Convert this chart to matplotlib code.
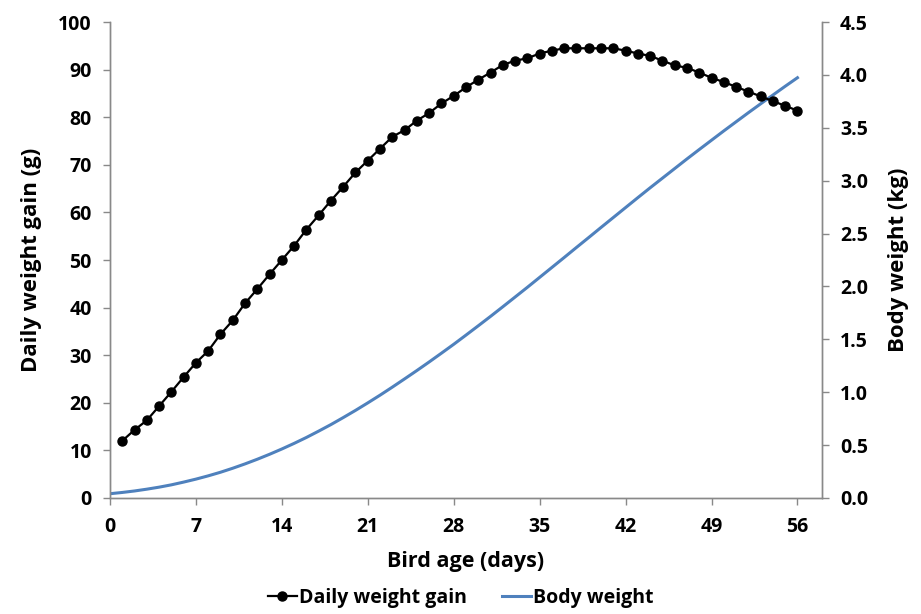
import matplotlib.pyplot as plt
import numpy as np

# daily weight gain (g), days 1..56
gain_days = list(range(1, 57))
daily_gain = [12.0, 14.3, 16.3, 19.3, 22.3, 25.4, 28.4, 30.9, 34.4, 37.3,
              40.9, 43.9, 47.0, 50.0, 53.0, 56.4, 59.4, 62.5, 65.4, 68.4,
              70.9, 73.4, 75.9, 77.3, 79.3, 80.9, 82.9, 84.5, 86.3, 87.9,
              89.4, 91.0, 91.9, 92.4, 93.4, 94.0, 94.5, 94.5, 94.5, 94.5,
              94.5, 94.0, 93.4, 92.9, 91.9, 90.9, 90.4, 89.4, 88.3, 87.4,
              86.4, 85.4, 84.4, 83.4, 82.4, 81.4]

# body weight (kg), days 0..56
bw_days = list(range(0, 57))
body_weight = [0.040, 0.052, 0.066, 0.083, 0.102, 0.124, 0.150, 0.178, 0.209, 0.243,
               0.281, 0.322, 0.366, 0.413, 0.463, 0.516, 0.572, 0.632, 0.694, 0.760,
               0.828, 0.899, 0.972, 1.048, 1.126, 1.205, 1.286, 1.369, 1.453, 1.540,
               1.628, 1.717, 1.808, 1.900, 1.992, 2.086, 2.180, 2.274, 2.369, 2.463,
               2.558, 2.652, 2.746, 2.840, 2.933, 3.024, 3.115, 3.206, 3.295, 3.383,
               3.471, 3.557, 3.643, 3.727, 3.810, 3.893, 3.974]

x_ticks = [0, 7, 14, 21, 28, 35, 42, 49, 56]

plt.rcParams['font.family'] = ['Open Sans', 'DejaVu Sans']
plt.rcParams['font.weight'] = 'bold'

axis_gray = '#898989'

fig = plt.figure(figsize=(9.21, 6.14), dpi=100)
ax = fig.add_axes([0.1194, 0.189, 0.7731, 0.775])
ax2 = ax.twinx()

l1, = ax.plot(gain_days, daily_gain, color='black', lw=1.6, marker='o',
              markersize=6.5, label='Daily weight gain', zorder=3)
l2, = ax2.plot(bw_days, body_weight, color='#4F81BD', lw=2.2, label='Body weight')
ax.set_zorder(ax2.get_zorder() + 1)
ax.patch.set_visible(False)

ax.set_xlim(0, 58)
ax.set_xticks(x_ticks)
ax.set_ylim(0, 100)
ax.set_yticks(np.arange(0, 101, 10))
ax2.set_ylim(0, 4.5)
ax2.set_yticks(np.arange(0, 4.51, 0.5))
ax2.set_yticklabels([f"{v:.1f}" for v in np.arange(0, 4.51, 0.5)])

for a in (ax, ax2):
    a.spines['top'].set_visible(False)
    for s in a.spines.values():
        s.set_color(axis_gray)
        s.set_linewidth(1.0)
    a.tick_params(axis='both', colors=axis_gray, labelcolor='black',
                  labelsize=14, length=5, width=1)
for lab in ax.get_xticklabels() + ax.get_yticklabels() + ax2.get_yticklabels():
    lab.set_fontweight('bold')
ax.tick_params(axis='x', pad=9)
ax.tick_params(axis='y', pad=8)
ax2.tick_params(axis='y', pad=8)

ax.set_xlabel('Bird age (days)', fontsize=15.5, fontweight='bold', labelpad=10)
ax.set_ylabel('Daily weight gain (g)', fontsize=16, fontweight='bold', labelpad=12)
ax2.set_ylabel('Body weight (kg)', fontsize=16, fontweight='bold', rotation=90, labelpad=14)

fig.legend([l1, l2], ['Daily weight gain', 'Body weight'], loc='lower center',
           bbox_to_anchor=(0.5, -0.018), ncol=2, frameon=False,
           handlelength=1.5, handletextpad=0.1, columnspacing=1.8,
           prop={'weight': 'bold', 'size': 14})

fig.savefig('out.png', dpi=100)
